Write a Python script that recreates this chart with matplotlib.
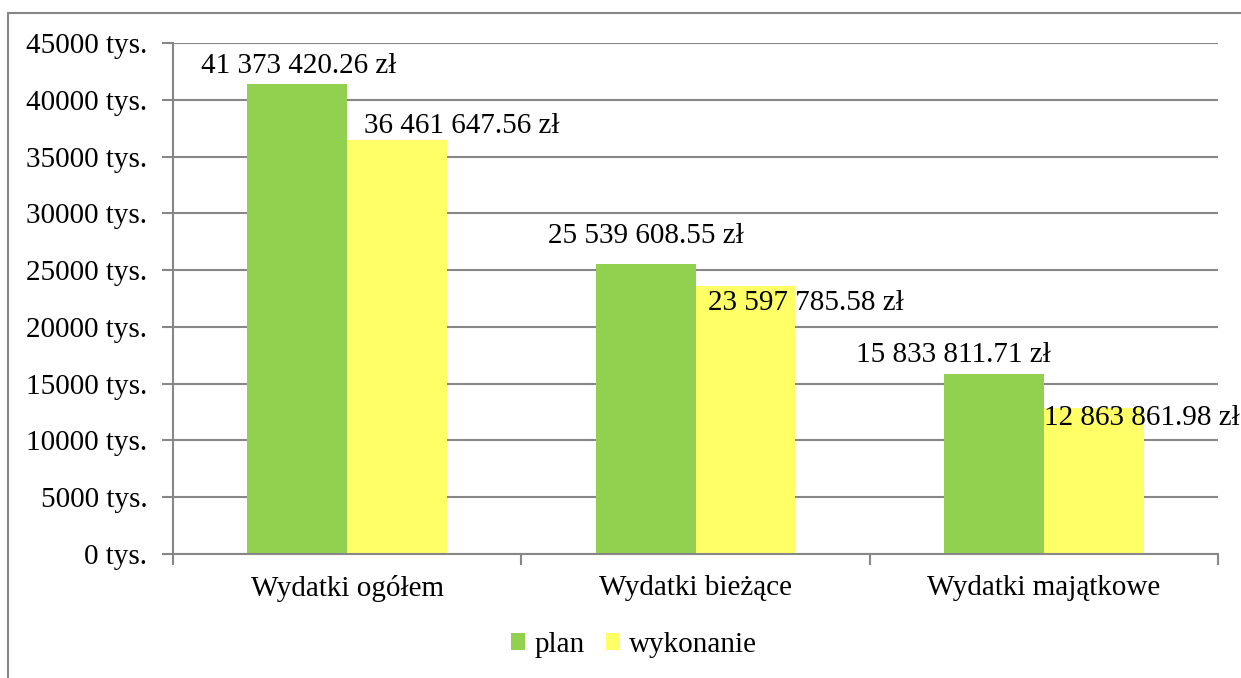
"""Plan vs. wykonanie wydatków – wykres słupkowy."""

import matplotlib.pyplot as plt
import numpy as np
from matplotlib.patches import Rectangle
from matplotlib.ticker import FuncFormatter

# ════════════════════════════════════════════════════════════════════════════
# DANE
# ════════════════════════════════════════════════════════════════════════════

categories = ["Wydatki ogółem", "Wydatki bieżące", "Wydatki majątkowe"]
plan = [41373420.26, 25539608.55, 15833811.71]          # zł
wykonanie = [36461647.56, 23597785.58, 12863861.98]     # zł
series_names = ["plan", "wykonanie"]

# ════════════════════════════════════════════════════════════════════════════
# STYL
# ════════════════════════════════════════════════════════════════════════════

GREEN = "#92D050"
YELLOW = "#FFFF66"
GRID = "#878787"
FONT = "Liberation Serif"
FS = 21

BAR_W = 0.287

# przesunięcia etykiet wartości względem wierzchołka słupka (piksele, linia bazowa)
PLAN_OFFSETS = [(2, 11), (0, 21), (-40, 12)]
WYK_OFFSETS = [(17, 7), (13, -24), (0, -17)]

plt.rcParams["font.family"] = [FONT, "DejaVu Serif"]


def fmt_zl(v):
    whole, frac = f"{v:.2f}".split(".")
    whole = f"{int(whole):,}".replace(",", " ")
    return f"{whole}.{frac} zł"


fig = plt.figure(figsize=(12.41, 6.78), dpi=100)
ax = fig.add_axes([173 / 1241, 1 - 554 / 678, (1218 - 173) / 1241, 511 / 678])

# ramka wykresu
fig.patches.append(Rectangle((8 / 1241, -0.1), 1.2, 1 - 13 / 678 + 0.1,
                             transform=fig.transFigure, fill=False,
                             edgecolor=GRID, linewidth=1.5, zorder=0))

x = np.arange(len(categories))
plan_k = np.array(plan) / 1000
wyk_k = np.array(wykonanie) / 1000

b1 = ax.bar(x - BAR_W / 2, plan_k, BAR_W, color=GREEN, label=series_names[0], zorder=2)
b2 = ax.bar(x + BAR_W / 2, wyk_k, BAR_W, color=YELLOW, label=series_names[1], zorder=2)

for xi, v, off in zip(x, plan, PLAN_OFFSETS):
    ax.annotate(fmt_zl(v), (xi - BAR_W / 2, v / 1000), xytext=off,
                textcoords="offset pixels", ha="center", va="baseline",
                fontsize=FS, zorder=3)
for xi, v, off in zip(x, wykonanie, WYK_OFFSETS):
    ax.annotate(fmt_zl(v), (xi, v / 1000), xytext=off,
                textcoords="offset pixels", ha="left", va="baseline",
                fontsize=FS, zorder=3, annotation_clip=False)

ax.set_xlim(-0.5, len(categories) - 0.5)
ax.set_ylim(0, 45000)
ax.set_yticks(np.arange(0, 45001, 5000))
ax.yaxis.set_major_formatter(FuncFormatter(lambda v, _: f"{int(v)} tys."))
ax.set_xticks(x)
ax.set_xticklabels(categories)
ax.set_xticks(np.arange(-0.5, len(categories), 1), minor=True)

ax.grid(axis="y", color=GRID, linewidth=1.5, zorder=0)
ax.set_axisbelow(True)
for side in ("top", "right"):
    ax.spines[side].set_visible(False)
for side in ("left", "bottom"):
    ax.spines[side].set_color(GRID)
    ax.spines[side].set_linewidth(1.5)

ax.tick_params(axis="y", direction="out", length=8, width=1.5, color=GRID,
               labelsize=FS, pad=10.5)
ax.tick_params(axis="x", which="major", length=0, labelsize=FS, pad=15)
ax.tick_params(axis="x", which="minor", direction="out", length=8, width=1.5, color=GRID)

fig.legend(handles=[b1, b2], loc="center", bbox_to_anchor=(634 / 1241, 1 - 645 / 678),
           ncol=2, frameon=False, fontsize=FS, handlelength=0.5, handleheight=0.5,
           handletextpad=0.3, columnspacing=0.73)

fig.savefig("out.png", dpi=100)
